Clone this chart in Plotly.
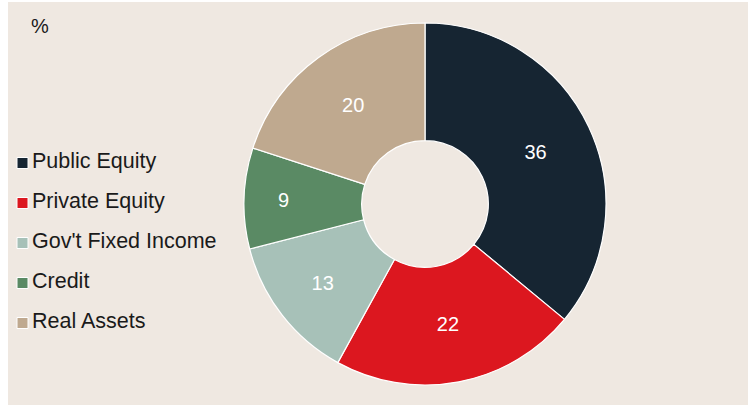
import plotly.graph_objects as go

# Portfolio allocation, %
categories = ["Public Equity", "Private Equity", "Gov't Fixed Income", "Credit", "Real Assets"]
shares = [36, 22, 13, 9, 20]
colors = ["#162532", "#DC171F", "#A7C1B8", "#5A8A64", "#BFA98F"]

W, H = 748, 406
BG = "#EFE8E1"
FONT = "Liberation Sans, Arial, sans-serif"
TEXT = "#1A1A1A"

fig = go.Figure()

# Donut
cx, cy, r = 425, 204, 181
fig.add_trace(go.Pie(
    labels=categories,
    values=shares,
    marker=dict(colors=colors, line=dict(color="white", width=1.2)),
    hole=0.35,
    sort=False,
    direction="clockwise",
    rotation=0,
    textinfo="value",
    textposition="inside",
    insidetextorientation="horizontal",
    textfont=dict(family=FONT, size=20, color="white"),
    showlegend=False,
    hoverinfo="label+value",
    domain=dict(x=[(cx - r) / W, (cx + r) / W],
                y=[(H - cy - r) / H, (H - cy + r) / H]),
))

# Key: square swatches with category names, laid out on a hidden axis
rows = list(range(len(categories)))
fig.add_trace(go.Scatter(
    x=[22.5] * len(categories),
    y=rows,
    mode="markers",
    marker=dict(symbol="square", size=11, color=colors, line=dict(color="white", width=1)),
    hoverinfo="skip",
    showlegend=False,
))
fig.add_trace(go.Scatter(
    x=[32] * len(categories),
    y=rows,
    mode="text",
    text=categories,
    textposition="middle right",
    textfont=dict(family=FONT, size=21.5, color=TEXT),
    cliponaxis=False,
    hoverinfo="skip",
    showlegend=False,
))

step = 40
top = 163
fig.update_layout(
    width=W, height=H,
    margin=dict(l=0, r=0, t=0, b=0),
    paper_bgcolor="white",
    plot_bgcolor="rgba(0,0,0,0)",
    xaxis=dict(visible=False, range=[0, W], domain=[0, 1], fixedrange=True),
    yaxis=dict(visible=False, range=[(H - top) / step, -top / step], domain=[0, 1], fixedrange=True),
    shapes=[dict(type="rect", xref="paper", yref="paper",
                 x0=8 / W, x1=1, y0=1 / H, y1=1 - 2 / H,
                 fillcolor=BG, line=dict(width=0), layer="below")],
    annotations=[dict(text="%", xref="paper", yref="paper",
                      x=29 / W, y=1 - 25.5 / H, xanchor="left", yanchor="middle",
                      showarrow=False, font=dict(family=FONT, size=20, color=TEXT))],
)

fig.write_html("out.html")
